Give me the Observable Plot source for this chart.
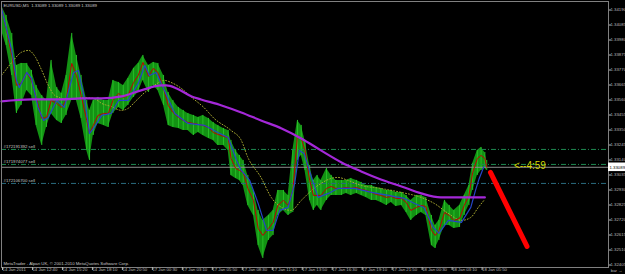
<!DOCTYPE html>
<html><head><meta charset="utf-8">
<script src="https://cdn.jsdelivr.net/npm/d3@7"></script>
<script src="https://cdn.jsdelivr.net/npm/@observablehq/plot@0.6"></script>
<style>html,body{margin:0;padding:0;background:#000;}#chart{width:625px;height:274px;overflow:hidden;}</style>
</head><body><div id="chart"></div>
<script>
// ---- data (bar index = 5-minute bar number) ----
const symbolText = "EURUSD,M5  1.33089 1.33089 1.33089 1.33089";
const footerText = "MetaTrader - Alpari UK, \u00A9 2001-2010 MetaQuotes Software Corp.";
const bars = [0,5,11,16,21,27,32,37,43,48,53,59,64,69,75,80,85,91,94,98,103,109,114,119,125,130,135,141,146,151,157,162,167,173,178,183,189,194,199,205,210,215,221,226,231,237,242,245,250,254,258,263,269,274,279,285,290,295,301,306,311,316,320,324,329,333,337,341,347,352,357,363,368,373,379,384,389,395,400,405,411,416,421,427,432,437,443,448,453,459,463,467,473,478,483,489,494,499,503,508,512,516,518];
const highs = [1.34222,1.34152,1.34026,1.33802,1.33816,1.33816,1.33767,1.33662,1.33592,1.33557,1.33837,1.33648,1.33606,1.33732,1.34026,1.33872,1.33732,1.33557,1.33487,1.33557,1.33578,1.33557,1.33557,1.33697,1.33683,1.33662,1.33711,1.33781,1.33816,1.33872,1.33802,1.33823,1.33816,1.33732,1.33613,1.33557,1.33508,1.33487,1.33466,1.33452,1.33438,1.33452,1.33431,1.33403,1.33382,1.33361,1.33347,1.33277,1.33207,1.33172,1.33137,1.33032,1.32927,1.32787,1.32717,1.32752,1.32787,1.32927,1.32927,1.32892,1.33207,1.33417,1.33382,1.33277,1.33102,1.32997,1.33032,1.32997,1.33081,1.33032,1.32997,1.32997,1.32997,1.33011,1.32997,1.32983,1.32962,1.32962,1.32948,1.32941,1.32927,1.32927,1.32913,1.32913,1.32892,1.32857,1.32892,1.32892,1.32878,1.32752,1.32682,1.32717,1.32857,1.32822,1.32787,1.32822,1.32892,1.32962,1.33116,1.33207,1.33228,1.33193,1.33137];
const lows = [1.34047,1.33942,1.33732,1.33466,1.33522,1.33627,1.33592,1.33382,1.33242,1.33368,1.33466,1.33417,1.33396,1.33452,1.33557,1.33557,1.33431,1.33207,1.33137,1.33312,1.33396,1.33382,1.33368,1.33466,1.33508,1.33487,1.33522,1.33578,1.33613,1.33697,1.33613,1.33662,1.33627,1.33522,1.33382,1.33368,1.33361,1.33347,1.33347,1.33312,1.33333,1.33312,1.33291,1.33277,1.33242,1.33242,1.33207,1.33032,1.33011,1.32997,1.32962,1.32822,1.32752,1.32542,1.32451,1.32577,1.32612,1.32752,1.32787,1.32752,1.32773,1.33137,1.33172,1.33067,1.32857,1.32787,1.32822,1.32787,1.32857,1.32892,1.32892,1.32892,1.32906,1.32892,1.32906,1.32892,1.32878,1.32857,1.32857,1.32843,1.32822,1.32843,1.32815,1.32822,1.32773,1.32717,1.32752,1.32773,1.32752,1.32542,1.32521,1.32577,1.32682,1.32682,1.32661,1.32668,1.32752,1.32822,1.32927,1.33032,1.33067,1.33081,1.33067];
const closes = [1.34201,1.34061,1.33872,1.33662,1.33676,1.33753,1.33697,1.33578,1.33431,1.33438,1.33557,1.33536,1.33508,1.33557,1.33816,1.33732,1.33592,1.33417,1.33326,1.33382,1.33452,1.33466,1.33466,1.33557,1.33606,1.33578,1.33592,1.33683,1.33732,1.33823,1.33725,1.33781,1.33753,1.33641,1.33522,1.33473,1.33438,1.33417,1.33403,1.33396,1.33389,1.33382,1.33368,1.33333,1.33319,1.33305,1.33298,1.33151,1.33081,1.33067,1.33053,1.32941,1.32857,1.32661,1.32612,1.32661,1.32703,1.32822,1.32857,1.32822,1.32927,1.33312,1.33291,1.33207,1.32997,1.32892,1.32892,1.32892,1.32941,1.32955,1.32941,1.32941,1.32948,1.32941,1.32948,1.32934,1.32927,1.32913,1.32899,1.32892,1.32878,1.32885,1.32871,1.32871,1.32843,1.32787,1.32808,1.32822,1.32815,1.32647,1.32612,1.32647,1.32773,1.32752,1.32717,1.32731,1.32822,1.32892,1.33053,1.33151,1.33172,1.33151,1.33089];
const blueMA = [[0,1.34201],[11,1.33907],[16,1.33697],[19,1.33648],[27,1.33753],[32,1.33711],[39,1.33508],[45,1.33417],[50,1.33438],[59,1.33557],[67,1.33508],[77,1.33753],[82,1.33767],[89,1.33557],[94,1.33326],[99,1.33368],[107,1.33452],[117,1.33466],[125,1.33557],[135,1.33557],[146,1.33676],[153,1.33802],[158,1.33732],[165,1.33753],[174,1.33627],[185,1.33466],[199,1.33396],[217,1.33382],[231,1.33333],[242,1.33298],[251,1.33137],[256,1.33067],[265,1.32997],[274,1.32836],[283,1.32647],[290,1.32647],[297,1.32787],[306,1.32808],[313,1.32976],[318,1.33207],[323,1.33186],[331,1.33018],[338,1.32878],[349,1.32906],[359,1.32941],[377,1.32941],[395,1.32913],[413,1.32892],[430,1.32871],[441,1.32836],[451,1.32808],[461,1.32668],[467,1.32626],[477,1.32717],[491,1.32703],[501,1.32808],[506,1.32927],[510,1.33011],[515,1.33095]];
const yellowMA = [[0,1.33732],[11,1.33823],[21,1.33893],[29,1.33907],[35,1.33872],[43,1.33767],[50,1.33662],[57,1.33592],[71,1.33564],[89,1.33578],[99,1.33571],[107,1.33536],[117,1.33515],[128,1.33487],[135,1.33501],[144,1.33557],[153,1.33613],[163,1.33662],[174,1.33697],[181,1.33683],[192,1.33641],[203,1.33578],[216,1.33508],[227,1.33431],[245,1.33347],[256,1.33277],[263,1.33158],[277,1.33018],[288,1.32878],[299,1.32808],[309,1.32787],[320,1.32857],[331,1.32927],[341,1.32976],[352,1.33011],[359,1.33018],[370,1.32997],[384,1.32962],[405,1.32941],[427,1.32913],[448,1.32878],[462,1.32836],[477,1.32766],[491,1.32717],[501,1.32738],[509,1.32808],[515,1.32857]];
const purpleMA = [[0,1.33550],[32,1.33564],[64,1.33564],[85,1.33571],[107,1.33571],[128,1.33585],[149,1.33627],[171,1.33662],[176,1.33662],[187,1.33641],[203,1.33585],[213,1.33564],[235,1.33522],[256,1.33473],[277,1.33417],[299,1.33361],[320,1.33291],[341,1.33207],[363,1.33123],[384,1.33060],[405,1.33004],[427,1.32955],[448,1.32906],[469,1.32878],[491,1.32878],[516,1.32878]];
const orderTickets = ["#172191392 sell","#171974077 sell","#172106700 sell"];
const orderPrices = [1.33214, 1.33109, 1.32976];
const lastPrice = 1.33089;
const countdownText = "<--4:59";
const countdownAt = [547, 1.33102];
const arrowStroke = [[522,1.33053],[561,1.32535]];
const priceTicks = [1.34190,1.34085,1.33980,1.33875,1.33770,1.33665,1.33560,1.33455,1.33350,1.33245,1.33140,1.33035,1.32930,1.32825,1.32720,1.32615,1.32510,1.32405];
const timeTickBars = [0,32,64,96,128,160,192,224,256,288,320,352,384,416,448,480,512];
const timeTickLabels = ["14 Jan 2011","14 Jan 12:40","14 Jan 15:20","14 Jan 18:10","14 Jan 20:50","17 Jan 00:30","17 Jan 03:10","17 Jan 05:50","17 Jan 08:30","17 Jan 11:10","17 Jan 13:50","17 Jan 16:30","17 Jan 19:10","17 Jan 21:50","18 Jan 00:30","18 Jan 03:10","18 Jan 05:50"];

// ---- chart ----
const ohlc = bars.map((b,i)=>({bar:b, high:highs[i], low:lows[i], close:closes[i]}));
const xEnd = 648;
const orderColors = ["#1e8a50","#1e8a50","#2a6a7e"];
const chart = Plot.plot({
  width:625, height:274,
  marginLeft:1, marginRight:17, marginTop:1, marginBottom:7,
  style:{background:"#000", color:"#c8c8c8", fontFamily:"'Liberation Sans', Arial, sans-serif", fontSize:"4.3px"},
  x:{domain:[0,xEnd], axis:null},
  y:{domain:[1.323875,1.342495], axis:null},
  marks:[
    Plot.areaY(ohlc,{x:"bar", y1:"low", y2:"high", fill:"#139213"}),
    Plot.ruleX(ohlc,{x:"bar", y1:"low", y2:"high", stroke:"#27be27", strokeWidth:1}),
    ...orderPrices.map((p,i)=>Plot.ruleY([p],{stroke:orderColors[i], strokeWidth:1, strokeDasharray:"5,2,1,2"})),
    Plot.ruleY([lastPrice],{stroke:"#8c8c8c", strokeWidth:1}),
    Plot.text(orderTickets,{frameAnchor:"left", y:(d,i)=>orderPrices[i], dx:2, dy:-3, textAnchor:"start", fill:"#c8c8c8"}),
    Plot.line(yellowMA,{x:d=>d[0], y:d=>d[1], stroke:"#a8a830", strokeWidth:1, strokeDasharray:"1,2", curve:"monotone-x"}),
    Plot.line(ohlc,{x:"bar", y:"close", stroke:"#c00000", strokeWidth:1}),
    Plot.line(blueMA,{x:d=>d[0], y:d=>d[1], stroke:"#2545c8", strokeWidth:1.2}),
    Plot.line(purpleMA,{x:d=>d[0], y:d=>d[1], stroke:"#a428d8", strokeWidth:2.2, curve:"monotone-x"}),
    Plot.line(arrowStroke,{x:d=>d[0], y:d=>d[1], stroke:"#ff0000", strokeWidth:5, strokeLinecap:"round"}),
    Plot.text([countdownText],{x:()=>countdownAt[0], y:()=>countdownAt[1], textAnchor:"start", fill:"#d6d600", fontSize:10}),
    Plot.frame({stroke:"#808080"}),
    Plot.axisY({anchor:"right", ticks:priceTicks, tickSize:2, tickPadding:0, tickFormat:d=>d.toFixed(5), color:"#b8b8b8"}),
    Plot.axisX({anchor:"bottom", ticks:timeTickBars, tickSize:3, tickPadding:-3, textAnchor:"start", dx:1, tickFormat:d=>timeTickLabels[timeTickBars.indexOf(d)], color:"#b8b8b8"}),
    Plot.rect([lastPrice],{x1:()=>xEnd, x2:()=>xEnd+19, y1:d=>d-0.0003, y2:d=>d+0.0003, fill:"#ffffff"}),
    Plot.text([lastPrice],{x:()=>xEnd, y:d=>d, dx:1, textAnchor:"start", text:d=>d.toFixed(5), fill:"#000"}),
    Plot.text([symbolText],{frameAnchor:"top-left", dx:2, dy:2, lineAnchor:"top", textAnchor:"start", fill:"#c8c8c8"}),
    Plot.text([footerText],{frameAnchor:"bottom-left", dx:2, dy:-3, lineAnchor:"bottom", textAnchor:"start", fill:"#c8c8c8"})
  ]
});
document.getElementById("chart").appendChild(chart);
</script>
</body></html>
